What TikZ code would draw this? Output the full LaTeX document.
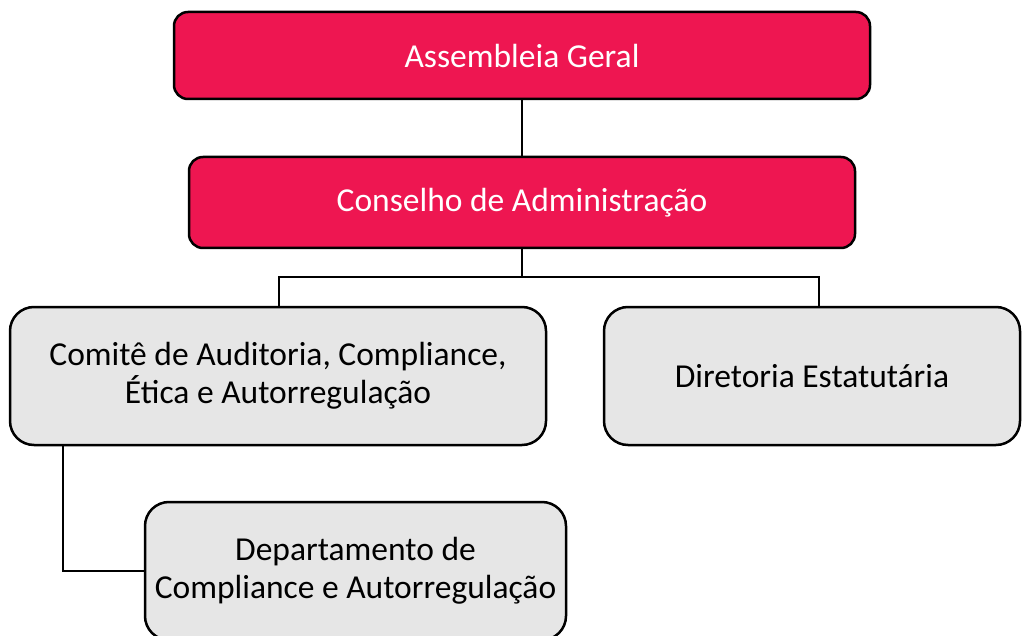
\documentclass[tikz,border=0pt]{standalone}
\usepackage{fontspec}
\setmainfont{Carlito}
\definecolor{redbox}{HTML}{EE1651}
\definecolor{graybox}{HTML}{E6E6E6}
\begin{document}
\begin{tikzpicture}[x=1pt,y=-1pt,
  redstyle/.style={draw=black, line width=2.5pt, fill=redbox, rounded corners=14pt, text=white, font=\fontsize{33.5}{38}\selectfont, inner sep=0pt, align=center},
  graystyle/.style={draw=black, line width=2.5pt, fill=graybox, rounded corners=24pt, text=black, font=\fontsize{33.5}{38}\selectfont, inner sep=0pt, align=center},
  link/.style={draw=black, line width=2.5pt}]
\useasboundingbox (0,0) rectangle (1022,636);
\node[redstyle, minimum width=696, minimum height=87] (ag) at (522,55.5) {Assembleia Geral};
\node[redstyle, minimum width=666, minimum height=91] (ca) at (522,202.5) {Conselho de Administração};
\node[graystyle, minimum width=536, minimum height=138] (com) at (278,376) {Comitê de Auditoria, Compliance,\\Ética e Autorregulação};
\node[graystyle, minimum width=416, minimum height=138] (dir) at (812,376) {Diretoria Estatutária};
\node[graystyle, minimum width=421, minimum height=138] (dep) at (355.5,571) {Departamento de\\Compliance e Autorregulação};
\coordinate (bus) at (522,277);
\draw[link] (ag.south) -- (ca.north);
\draw[link] (ca.south) -- (bus);
\draw[link] (bus) -| ([xshift=1]com.north);
\draw[link] (bus) -| ([xshift=7]dir.north);
\draw[link] ([xshift=54]com.south west) |- (dep.west);
\end{tikzpicture}
\end{document}
